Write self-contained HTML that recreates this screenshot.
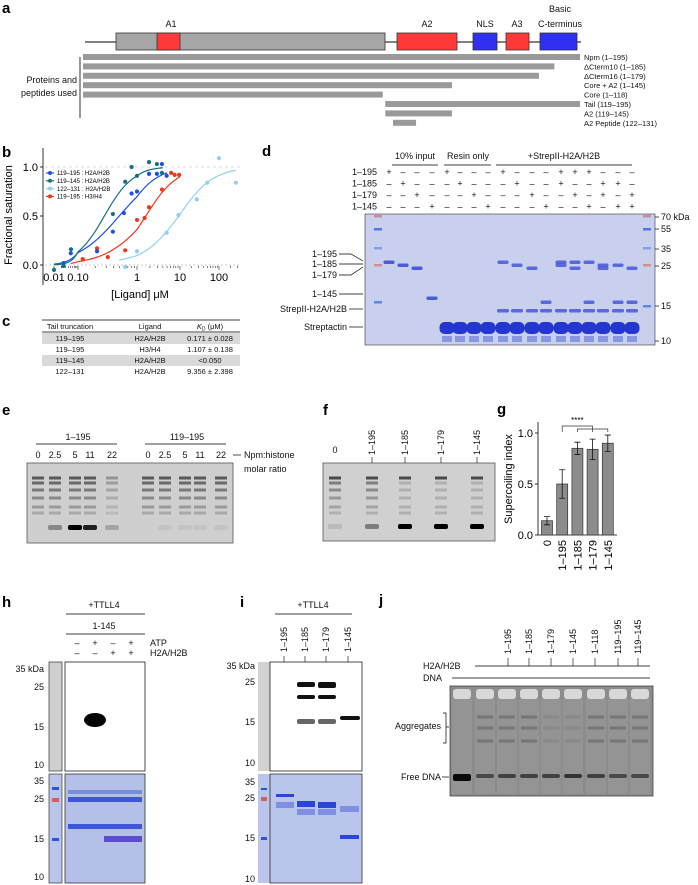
<!DOCTYPE html>
<html><head><meta charset="utf-8"><style>
html,body{margin:0;padding:0;background:#fff}
svg{display:block;font-family:"Liberation Sans",sans-serif}
.pl{font-weight:bold;font-size:15px}
.t{font-size:9px;fill:#111}
.s{font-size:7.5px;fill:#111}
</style></head><body>
<svg id="fig" width="698" height="885" viewBox="0 0 698 885">
<!-- panel a -->
<g>
<text class="pl" x="2" y="13">a</text>
<line x1="85" y1="42" x2="581" y2="42" stroke="#000" stroke-width="1"/>
<rect x="116" y="33" width="269" height="17" fill="#a6a6a6" stroke="#333" stroke-width="0.8"/>
<rect x="157" y="33" width="23" height="17" fill="#ff3838" stroke="#333" stroke-width="0.8"/>
<rect x="397" y="33" width="60" height="17" fill="#ff3838" stroke="#333" stroke-width="0.8"/>
<rect x="473" y="33" width="24" height="17" fill="#3030f0" stroke="#333" stroke-width="0.8"/>
<rect x="506" y="33" width="23" height="17" fill="#ff3838" stroke="#333" stroke-width="0.8"/>
<rect x="540" y="33" width="37" height="17" fill="#3030f0" stroke="#333" stroke-width="0.8"/>
<text class="t" x="171" y="27" text-anchor="middle">A1</text>
<text class="t" x="427" y="27" text-anchor="middle">A2</text>
<text class="t" x="485" y="27" text-anchor="middle">NLS</text>
<text class="t" x="517" y="27" text-anchor="middle">A3</text>
<text class="t" x="560" y="12" text-anchor="middle">Basic</text>
<text class="t" x="560" y="27" text-anchor="middle">C-terminus</text>
<line x1="80" y1="57" x2="80" y2="118" stroke="#000" stroke-width="0.8"/>
<text class="t" x="77" y="83" text-anchor="end">Proteins and</text>
<text class="t" x="77" y="96" text-anchor="end">peptides used</text>
<g id="constructs"></g>
</g>
<!-- panel b -->
<g>
<text class="pl" x="2" y="157">b</text>
<g id="chartb"></g>
</g>
<!-- panel c -->
<g>
<text class="pl" x="2" y="326">c</text>
<line x1="42" y1="320" x2="240" y2="320" stroke="#000" stroke-width="0.7"/>
<text class="s" x="70" y="329" text-anchor="middle">Tail truncation</text>
<text class="s" x="150" y="329" text-anchor="middle">Ligand</text>
<text class="s" x="210" y="329" text-anchor="middle"><tspan font-style="italic">K</tspan><tspan font-size="5" dy="1.5">D</tspan><tspan dy="-1.5"> (μM)</tspan></text>
<line x1="42" y1="332" x2="240" y2="332" stroke="#000" stroke-width="0.7"/>
<rect x="42" y="333" width="198" height="11" fill="#d9d9d9"/>
<rect x="42" y="355" width="198" height="11" fill="#d9d9d9"/>
<text class="s" x="70" y="341" text-anchor="middle">119–195</text><text class="s" x="150" y="341" text-anchor="middle">H2A/H2B</text><text class="s" x="210" y="341" text-anchor="middle">0.171 ± 0.028</text>
<text class="s" x="70" y="352" text-anchor="middle">119–195</text><text class="s" x="150" y="352" text-anchor="middle">H3/H4</text><text class="s" x="210" y="352" text-anchor="middle">1.107 ± 0.138</text>
<text class="s" x="70" y="363" text-anchor="middle">119–145</text><text class="s" x="150" y="363" text-anchor="middle">H2A/H2B</text><text class="s" x="210" y="363" text-anchor="middle">&lt;0.050</text>
<text class="s" x="70" y="374" text-anchor="middle">122–131</text><text class="s" x="150" y="374" text-anchor="middle">H2A/H2B</text><text class="s" x="210" y="374" text-anchor="middle">9.356 ± 2.398</text>
</g>
<!-- panel d -->
<g>
<text class="pl" x="262" y="156">d</text>
<text class="t" x="415" y="159" text-anchor="middle">10% input</text>
<text class="t" x="468" y="159" text-anchor="middle">Resin only</text>
<text class="t" x="564" y="159" text-anchor="middle">+StrepII-H2A/H2B</text>
<line x1="392" y1="165" x2="438" y2="165" stroke="#000" stroke-width="0.7"/>
<line x1="444" y1="165" x2="491" y2="165" stroke="#000" stroke-width="0.7"/>
<line x1="496" y1="165" x2="632" y2="165" stroke="#000" stroke-width="0.7"/>
<rect x="365" y="214" width="290" height="131" fill="#c9d0ee" stroke="#333" stroke-width="0.6"/>
<g id="geld"></g>
<text class="t" x="661" y="220">70 kDa</text><text class="t" x="661" y="232">55</text><text class="t" x="661" y="252">35</text><text class="t" x="661" y="269">25</text><text class="t" x="661" y="309">15</text><text class="t" x="661" y="344">10</text>
<g stroke="#000" stroke-width="0.7"><line x1="655" y1="217" x2="659" y2="217"/><line x1="655" y1="229" x2="659" y2="229"/><line x1="655" y1="249" x2="659" y2="249"/><line x1="655" y1="266" x2="659" y2="266"/><line x1="655" y1="306" x2="659" y2="306"/><line x1="655" y1="341" x2="659" y2="341"/></g>
<text class="t" x="337" y="257" text-anchor="end">1–195</text>
<text class="t" x="337" y="267" text-anchor="end">1–185</text>
<text class="t" x="337" y="278" text-anchor="end">1–179</text>
<text class="t" x="337" y="297" text-anchor="end">1–145</text>
<text class="t" x="347" y="312" text-anchor="end">StrepII-H2A/H2B</text>
<text class="t" x="347" y="330" text-anchor="end">Streptactin</text>
<g stroke="#000" stroke-width="0.7" fill="none"><polyline points="339,254 351,254 363,261"/><line x1="339" y1="264" x2="363" y2="264"/><polyline points="339,275 351,275 363,267"/><line x1="339" y1="294" x2="363" y2="294"/><line x1="349" y1="309" x2="363" y2="309"/><line x1="349" y1="327" x2="363" y2="327"/></g>
</g>
<!-- panel e -->
<g>
<text class="pl" x="2" y="415">e</text>
<text class="t" x="78" y="440" text-anchor="middle">1–195</text>
<text class="t" x="187" y="440" text-anchor="middle">119–195</text>
<line x1="36" y1="444" x2="117" y2="444" stroke="#000" stroke-width="0.7"/>
<line x1="145" y1="444" x2="226" y2="444" stroke="#000" stroke-width="0.7"/>
<line x1="233" y1="455" x2="241" y2="455" stroke="#000" stroke-width="0.7"/>
<text class="t" x="244" y="458">Npm:histone</text>
<text class="t" x="244" y="472">molar ratio</text>
<rect x="27" y="463" width="206" height="80" fill="#cfcfcf" stroke="#555" stroke-width="0.8"/>
<g id="gele"></g>
</g>
<!-- panel f -->
<g>
<text class="pl" x="323" y="415">f</text>
<rect x="323" y="463" width="172" height="78" fill="#d0d0d0" stroke="#555" stroke-width="0.8"/>
<g id="gelf"></g>
</g>
<!-- panel g -->
<g>
<text class="pl" x="497" y="414">g</text>
<g id="chartg"></g>
</g>
<!-- panel h -->
<g>
<text class="pl" x="2" y="607">h</text>
<text class="t" x="104" y="608" text-anchor="middle">+TTLL4</text>
<line x1="66" y1="614" x2="145" y2="614" stroke="#000" stroke-width="0.7"/>
<text class="t" x="104" y="629" text-anchor="middle">1-145</text>
<line x1="66" y1="634" x2="145" y2="634" stroke="#000" stroke-width="0.7"/>
<text class="t" x="150" y="646">ATP</text>
<text class="t" x="150" y="656">H2A/H2B</text>
<text class="t" x="77" y="646" text-anchor="middle">–</text><text class="t" x="95" y="646" text-anchor="middle">+</text><text class="t" x="113" y="646" text-anchor="middle">–</text><text class="t" x="131" y="646" text-anchor="middle">+</text>
<text class="t" x="77" y="656" text-anchor="middle">–</text><text class="t" x="95" y="656" text-anchor="middle">–</text><text class="t" x="113" y="656" text-anchor="middle">+</text><text class="t" x="131" y="656" text-anchor="middle">+</text>
<rect x="49" y="662" width="13" height="109" fill="#cfcfcf" stroke="#333" stroke-width="0.7"/>
<rect x="65" y="662" width="80" height="109" fill="#fff" stroke="#222" stroke-width="0.8"/>
<ellipse cx="95" cy="720" rx="11" ry="7" fill="#050505"/>
<rect x="49" y="774" width="13" height="109" fill="#b9c5ea" stroke="#333" stroke-width="0.7"/>
<rect x="65" y="774" width="80" height="109" fill="#b4c0e8" stroke="#333" stroke-width="0.8"/>
<g fill="#2a45d8" opacity="0.85"><rect x="68" y="790" width="74" height="4" opacity="0.5"/><rect x="68" y="797" width="74" height="5"/><rect x="68" y="824" width="74" height="5"/></g>
<rect x="104" y="836" width="38" height="6" fill="#5b4fd0"/>
<g class="t" text-anchor="end"><text class="t" x="44" y="672" text-anchor="end">35 kDa</text><text class="t" x="44" y="690" text-anchor="end">25</text><text class="t" x="44" y="730" text-anchor="end">15</text><text class="t" x="44" y="768" text-anchor="end">10</text>
<text class="t" x="44" y="784" text-anchor="end">35</text><text class="t" x="44" y="802" text-anchor="end">25</text><text class="t" x="44" y="842" text-anchor="end">15</text><text class="t" x="44" y="880" text-anchor="end">10</text></g>
<rect x="52" y="787" width="7" height="3" fill="#3050e0"/><rect x="52" y="798" width="7" height="4" fill="#d06060"/><rect x="52" y="838" width="7" height="3" fill="#3050e0"/>
</g>
<!-- panel i -->
<g>
<text class="pl" x="240" y="607">i</text>
<text class="t" x="313" y="608" text-anchor="middle">+TTLL4</text>
<line x1="275" y1="614" x2="352" y2="614" stroke="#000" stroke-width="0.7"/>
<g id="ilabels"></g>
<rect x="258" y="662" width="12" height="109" fill="#d2d2d2"/>
<rect x="270" y="662" width="92" height="109" fill="#fff" stroke="#222" stroke-width="0.8"/>
<g fill="#111"><rect x="297" y="682" width="18" height="5" rx="2"/><rect x="318" y="682" width="18" height="6" rx="2"/><rect x="297" y="695" width="18" height="4" rx="2"/><rect x="318" y="695" width="18" height="4" rx="2"/><rect x="340" y="716" width="20" height="4" rx="2"/></g>
<g fill="#666"><rect x="297" y="719" width="18" height="5" rx="2"/><rect x="318" y="719" width="18" height="5" rx="2"/></g>
<rect x="258" y="774" width="12" height="109" fill="#b9c5ea"/>
<rect x="270" y="774" width="92" height="109" fill="#b9c5ea" stroke="#333" stroke-width="0.8"/>
<g fill="#2a45d8"><rect x="276" y="794" width="18" height="3"/><rect x="297" y="801" width="18" height="6"/><rect x="318" y="802" width="18" height="6"/><rect x="340" y="835" width="19" height="4"/></g>
<g fill="#5a6ee0" opacity="0.6"><rect x="276" y="802" width="18" height="6"/><rect x="297" y="809" width="18" height="6"/><rect x="318" y="809" width="18" height="6"/><rect x="340" y="806" width="19" height="6"/></g>
<text class="t" x="255" y="669" text-anchor="end">35 kDa</text><text class="t" x="255" y="685" text-anchor="end">25</text><text class="t" x="255" y="725" text-anchor="end">15</text><text class="t" x="255" y="766" text-anchor="end">10</text>
<text class="t" x="255" y="785" text-anchor="end">35</text><text class="t" x="255" y="801" text-anchor="end">25</text><text class="t" x="255" y="841" text-anchor="end">15</text><text class="t" x="255" y="882" text-anchor="end">10</text>
<rect x="261" y="788" width="6" height="2" fill="#3050e0"/><rect x="261" y="797" width="6" height="4" fill="#d06060"/><rect x="261" y="837" width="6" height="3" fill="#3050e0"/>
</g>
<!-- panel j -->
<g>
<text class="pl" x="379" y="605">j</text>
<text class="t" x="423" y="669">H2A/H2B</text>
<text class="t" x="423" y="681">DNA</text>
<line x1="475" y1="666" x2="650" y2="666" stroke="#000" stroke-width="0.7"/>
<line x1="452" y1="678" x2="650" y2="678" stroke="#000" stroke-width="0.7"/>
<g id="jlabels"></g>
<rect x="450" y="686" width="203" height="110" fill="#8c8c8c" stroke="#444" stroke-width="0.8"/>
<g id="gelj"></g>
<text class="t" x="441" y="729" text-anchor="end">Aggregates</text>
<polyline points="443,713 446,713 446,743 443,743" fill="none" stroke="#000" stroke-width="0.7"/>
<line x1="446" y1="727" x2="449" y2="727" stroke="#000" stroke-width="0.7"/>
<text class="t" x="441" y="780" text-anchor="end">Free DNA</text>
<line x1="442" y1="777" x2="449" y2="777" stroke="#000" stroke-width="0.7"/>
</g>
</svg>
<script>
const NS='http://www.w3.org/2000/svg';
function E(p,tag,a){const e=document.createElementNS(NS,tag);for(const k in a)e.setAttribute(k,a[k]);p.appendChild(e);return e;}
// ---- panel a constructs
const conNames=['Npm (1–195)','ΔCterm10 (1–185)','ΔCterm16 (1–179)','Core + A2 (1–145)','Core (1–118)','Tail (119–195)','A2 (119–145)','A2 Peptide (122–131)'];
const conStart=[1,1,1,1,1,119,119,122];
const conEnd=[195,185,179,145,118,195,145,131];
const ga=document.getElementById('constructs');
const resX=r=>83+(r-1)*(497/194);
conNames.forEach((n,i)=>{const y=54+i*9.4;
 const r=E(ga,'rect',{x:resX(conStart[i]),y:y,width:resX(conEnd[i])-resX(conStart[i]),height:6,fill:'#9a9a9a'});
 
 
 const t=E(ga,'text',{x:584,y:y+6,'class':'s'});t.textContent=n;
 
 
});
// ---- panel b chart
const bTicks=[0.01,0.1,1,10,100];
const bTickLabels=['0.01','0.10','1','10','100'];
const bYTicks=[0,0.5,1];
const bSeriesNames=['119–195 : H2A/H2B','119–145 : H2A/H2B','122–131 : H2A/H2B','119–195 : H3/H4'];
const bColors=['#1f4fe8','#17707f','#8fd0f5','#f2361e'];
const bConc0=[0.025,0.05,0.21,0.39,0.6,0.81,1.0,1.9,2.9,3.8,4.9];
const bVal0=[0.02,0.12,0.14,0.34,0.53,0.73,0.75,0.93,0.93,1.03,0.91];
const bConc1=[0.01,0.025,0.051,0.39,0.63,0.81,1.0,1.9,2.9,3.8];
const bVal1=[-0.05,-0.01,0.16,0.52,0.85,1.0,0.91,1.05,1.03,0.94];
const bConc2=[0.63,1.0,4.9,9.2,27,50,100,271];
const bVal2=[-0.02,0.14,0.33,0.51,0.67,0.84,1.09,0.84];
const bConc3=[0.12,0.21,0.32,0.63,1.0,1.5,1.9,3.8,6.2,7.5,9.5];
const bVal3=[0.06,0.17,0.08,0.15,0.46,0.48,0.59,0.77,0.94,0.92,0.92];
const bKd=[0.5,0.28,9.4,1.6];
const bHill=[1.2,1.8,1.0,1.2];
const bRange=[[0.01,5],[0.01,4],[0.5,270],[0.05,10]];
const bTickPx=[54,78,137,180,219];
function bx(c){const l=Math.log10(c);let i=Math.floor(l+2);if(i<0)i=0;if(i>3)i=3;
 return bTickPx[i]+(l-(i-2))*(bTickPx[i+1]-bTickPx[i]);}
function by(v){return 265-v*98;}
const gb=document.getElementById('chartb');
const yax=E(gb,'line',{x1:43,y1:148,x2:43,y2:285,stroke:'#000','stroke-width':0.8});


E(gb,'line',{x1:45,y1:by(1),x2:240,y2:by(1),stroke:'#ccc','stroke-width':0.7,'stroke-dasharray':'3,3'});
E(gb,'line',{x1:45,y1:by(0),x2:240,y2:by(0),stroke:'#bbb','stroke-width':0.7,'stroke-dasharray':'2,2'});
bYTicks.forEach(v=>{const t=E(gb,'text',{x:38,y:by(v)+4,'text-anchor':'end',style:'font-size:11px'});t.textContent=v.toFixed(1);
 
 
 E(gb,'line',{x1:40,y1:by(v),x2:43,y2:by(v),stroke:'#000','stroke-width':0.8});});
bTicks.forEach((v,i)=>{const t=E(gb,'text',{x:i==1?78:bx(v),y:281,'text-anchor':'middle',style:'font-size:11px'});t.textContent=bTickLabels[i];
 
 });
for(let d=-2;d<3;d++)for(let m=1;m<10;m++){const x=bx(m*Math.pow(10,d));if(x<=240)E(gb,'line',{x1:x,y1:266,x2:x,y2:m==1?270:268,stroke:'#000','stroke-width':0.5});}
const xt=E(gb,'text',{x:140,y:298,'text-anchor':'middle',style:'font-size:11px'});xt.textContent='[Ligand] μM';


const ytt=E(gb,'text',{x:12,y:215,'text-anchor':'middle',transform:'rotate(-90 12 215)',style:'font-size:11px'});ytt.textContent='Fractional saturation';


const bC=[bConc0,bConc1,bConc2,bConc3],bV=[bVal0,bVal1,bVal2,bVal3];
[2,3,0,1].forEach(s=>{let d='';const [a,b]=bRange[s];
 for(let k=0;k<=80;k++){const c=a*Math.pow(b/a,k/80);const v=Math.pow(c,bHill[s])/(Math.pow(bKd[s],bHill[s])+Math.pow(c,bHill[s]));d+=(k?'L':'M')+bx(c).toFixed(1)+','+by(v).toFixed(1);}
 const p=E(gb,'path',{d:d,fill:'none',stroke:bColors[s],'stroke-width':1.2});
 
 
 bC[s].forEach((c,i)=>{const pt=E(gb,'circle',{cx:bx(c),cy:by(bV[s][i]),r:2.1,fill:bColors[s]});
  
  });
});
bSeriesNames.forEach((n,i)=>{const y=173+i*7.8;E(gb,'line',{x1:46,y1:y,x2:54,y2:y,stroke:bColors[i],'stroke-width':1.2});
 E(gb,'circle',{cx:50,cy:y,r:2,fill:bColors[i]});
 const t=E(gb,'text',{x:57,y:y+2.2,style:'font-size:6px'});t.textContent=n;
 
 });
// ---- panel d gel
const gd=document.getElementById('geld');
const dLaneX=[389,403,417,432,447,460,474,488,503,517,532,546,561,575,589,603,618,632];
const dRows=['1–195','1–185','1–179','1–145'];
const dSigns=['+---+---+---+++---','-+---+---+--+--++-','--+---+---+--+-+-+','---+---+---+--+-++'];
dRows.forEach((r,ri)=>{const y=175+ri*11.5;const t=E(gd,'text',{x:377,y:y,'text-anchor':'end','class':'t'});t.textContent=r;
 
 
 dLaneX.forEach((x,li)=>{const s=E(gd,'text',{x:x,y:y,'text-anchor':'middle','class':'t'});s.textContent=(dSigns[ri][li]||'-')=='+'?'+':'–';});});
const bandY={'1–195':262,'1–185':265,'1–179':268,'1–145':298};
dLaneX.forEach((x,li)=>{
 dRows.forEach((r,ri)=>{if(dSigns[ri][li]=='+'&&(li<4||li>7)){const yy=(li>7&&r=='1–145')?302:bandY[r];const b=E(gd,'rect',{x:x-5.5,y:yy-1.5,width:11,height:3.5,rx:1.5,fill:'#3b4fd6',opacity:li<4?0.9:0.8});
  
  }});
 if(li>=8)E(gd,'rect',{x:x-6,y:309,width:12,height:3.5,rx:1.5,fill:'#3b4fd6',opacity:0.8});
 if(li>=4){E(gd,'rect',{x:x-7.5,y:322,width:15,height:12,rx:5,fill:'#2336d0'});E(gd,'rect',{x:x-5,y:336,width:10,height:6,fill:'#4a5ed8',opacity:0.5});}
});
[[378,216,'#c98a9a'],[378,229,'#4a78e8'],[378,248,'#7fa0ec'],[378,265,'#d09090'],[378,302,'#5a88ea'],[647,216,'#c98a9a'],[647,229,'#4a78e8'],[647,248,'#7fa0ec'],[647,265,'#d09090'],[647,306,'#5a88ea']].forEach(m=>E(gd,'rect',{x:m[0]-4,y:m[1]-1,width:8,height:2.5,fill:m[2]}));
// ---- panel e gel
const ge=document.getElementById('gele');
const eLanes=[38,55,75,90,112,148,165,185,200,221];
const eLabels=['0','2.5','5','11','22','0','2.5','5','11','22'];
const eFree=[0,0.35,1,0.85,0.2,0,0.05,0.05,0.05,0.05];
const eLadY=[478,483,490,498,507,513];
eLanes.forEach((x,i)=>{const t=E(ge,'text',{x:x,y:458,'text-anchor':'middle','class':'t'});t.textContent=eLabels[i];
 
 
 eLadY.forEach((y,k)=>E(ge,'rect',{x:x-6,y:y-1.5,width:12,height:3,fill:'#333',opacity:(0.75-k*0.1)*(i==4?0.5:1)}));
 if(eFree[i]>0)E(ge,'rect',{x:x-7,y:525,width:14,height:5,rx:2,fill:'#000',opacity:eFree[i]});});
// ---- panel f gel
const gf=document.getElementById('gelf');
const fLanes=[335,372,405,441,477];
const fLabels=['0','1–195','1–185','1–179','1–145'];
const fFree=[0.1,0.4,1,1,1];
fLanes.forEach((x,i)=>{let t;
 if(i==0){t=E(gf,'text',{x:x,y:453,'text-anchor':'middle','class':'t'});}
 else{t=E(gf,'text',{x:x+3,y:455,'text-anchor':'start','class':'t',transform:`rotate(-90 ${x+3} 455)`});E(gf,'line',{x1:x,y1:457,x2:x,y2:463,stroke:'#000','stroke-width':0.6});}
 t.textContent=fLabels[i];
 
 
 eLadY.forEach((y,k)=>E(gf,'rect',{x:x-6,y:y-1.5,width:12,height:3,fill:'#333',opacity:k==0?0.85:(i<2?0.6-k*0.08:0.2)}));
 E(gf,'rect',{x:x-7,y:524,width:14,height:5,rx:2,fill:'#000',opacity:fFree[i]});});
// ---- panel g chart
const gCats=['0','1–195','1–185','1–179','1–145'];
const gVals=[0.14,0.50,0.85,0.84,0.90];
const gErr=[0.04,0.14,0.06,0.10,0.08];
const gYTicks=[0,0.5,1];
const gg=document.getElementById('chartg');
const gy=v=>535-v*102;const gx=i=>547+i*15.2;
E(gg,'line',{x1:538,y1:422,x2:538,y2:535,stroke:'#000','stroke-width':0.8});
E(gg,'line',{x1:538,y1:535,x2:617,y2:535,stroke:'#000','stroke-width':0.8});
gYTicks.forEach(v=>{E(gg,'line',{x1:535,y1:gy(v),x2:538,y2:gy(v),stroke:'#000','stroke-width':0.8});
 const t=E(gg,'text',{x:533,y:gy(v)+4,'text-anchor':'end',style:'font-size:11px'});t.textContent=v.toFixed(1);
 
 });
const gyt=E(gg,'text',{x:512,y:479,'text-anchor':'middle',transform:'rotate(-90 512 479)',style:'font-size:11px'});gyt.textContent='Supercoiling index';


gCats.forEach((c,i)=>{const x=gx(i);
 const b=E(gg,'rect',{x:x-5.5,y:gy(gVals[i]),width:11,height:gy(0)-gy(gVals[i]),fill:'#8c8c8c',stroke:'#333','stroke-width':0.7});
 
 
 const e1=gy(gVals[i]+gErr[i]),e2=gy(gVals[i]-gErr[i]);
 E(gg,'path',{d:`M${x},${e1}V${e2}M${x-3},${e1}H${x+3}M${x-3},${e2}H${x+3}`,stroke:'#111','stroke-width':0.8,fill:'none'});
 const t=E(gg,'text',{x:x+4,y:540,'text-anchor':'end',transform:`rotate(-90 ${x+4} 540)`,style:'font-size:11px'});t.textContent=c;
 
 });
E(gg,'path',{d:`M${gx(1)},432V426H${gx(3)}V432`,stroke:'#333','stroke-width':0.7,fill:'none'});
E(gg,'path',{d:`M${gx(2)},432V429H${gx(4)}V432`,stroke:'#333','stroke-width':0.7,fill:'none'});
const st=E(gg,'text',{x:gx(2),y:423,'text-anchor':'middle',style:'font-size:8px'});st.textContent='****';


// ---- panel i labels
const gi=document.getElementById('ilabels');
const iLanes=[284,305,326,348];
const iLabels=['1–195','1–185','1–179','1–145'];
iLanes.forEach((x,i)=>{const t=E(gi,'text',{x:x+3,y:652,'class':'t',transform:`rotate(-90 ${x+3} 652)`});t.textContent=iLabels[i];
 
 
 E(gi,'line',{x1:x,y1:656,x2:x,y2:662,stroke:'#000','stroke-width':0.6});});
// ---- panel j
const gj=document.getElementById('jlabels');
const jLanes=[508,529,551,573,595,618,638];
const jLabels=['1–195','1–185','1–179','1–145','1–118','119–195','119–145'];
jLanes.forEach((x,i)=>{const t=E(gj,'text',{x:x+3,y:654,'class':'t',transform:`rotate(-90 ${x+3} 654)`});t.textContent=jLabels[i];
 
 
 E(gj,'line',{x1:x,y1:658,x2:x,y2:666,stroke:'#000','stroke-width':0.6});});
const gjl=document.getElementById('gelj');
const jWells=[462,485,507,529,551,573,596,618,640];
const jFree=[1,0.55,0.6,0.6,0.6,0.7,0.6,0.55,0.55];
const jAgg=[0,0.3,0.3,0.3,0.1,0.1,0.3,0.3,0.3];
jWells.forEach((x,i)=>{E(gjl,'rect',{x:x-9,y:689,width:18,height:10,rx:3,fill:'#d8d8d8'});
 E(gjl,'rect',{x:x-10,y:699,width:20,height:95,fill:'#9a9a9a',opacity:0.6});
 [717,728,741].forEach(y=>E(gjl,'rect',{x:x-8,y:y-1.5,width:16,height:3,fill:'#333',opacity:jAgg[i]}));
 const b=E(gjl,'rect',{x:x-9,y:774,width:18,height:i==0?7:4,rx:2,fill:'#0a0a0a',opacity:jFree[i]});
 
 });
</script>
</body></html>
